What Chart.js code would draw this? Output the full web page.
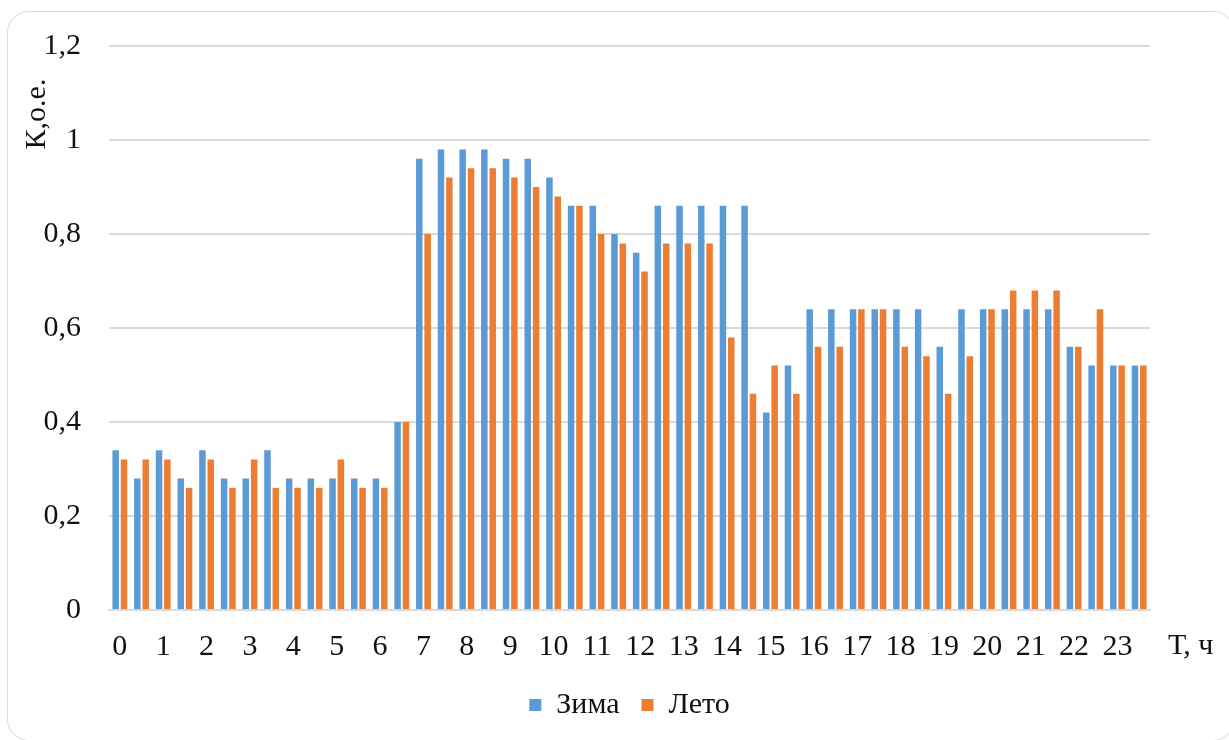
<!DOCTYPE html>
<html lang="ru">
<head>
<meta charset="utf-8">
<title>Коэффициент нагрузки по времени суток</title>
<script src="https://cdn.jsdelivr.net/npm/chart.js@4.4.1/dist/chart.umd.min.js"></script>
<style>
  html, body { margin: 0; padding: 0; background: #ffffff; overflow: hidden; }
  #frame {
    position: absolute; left: 7px; top: 11px; width: 1228px; height: 730px;
    border: 1.5px solid #d9d9d9; border-radius: 22px; box-sizing: border-box;
  }
  #wrap { position: absolute; left: 0; top: 0; width: 1229px; height: 740px; }
</style>
</head>
<body>
<div id="frame"></div>
<div id="wrap"><canvas id="chart" width="1229" height="740"></canvas></div>
<script>
// Half-hour slots over the day; only full hours are labelled on the axis
const hourLabels = [
  '0','', '1','', '2','', '3','', '4','', '5','', '6','', '7','', '8','', '9','', '10','', '11','',
  '12','', '13','', '14','', '15','', '16','', '17','', '18','', '19','', '20','', '21','', '22','', '23',''
];

// Load coefficient, winter day
const winter = [
  0.34, 0.28, 0.34, 0.28, 0.34, 0.28, 0.28, 0.34, 0.28, 0.28, 0.28, 0.28, 0.28, 0.40,
  0.96, 0.98, 0.98, 0.98, 0.96, 0.96, 0.92, 0.86, 0.86, 0.80, 0.76, 0.86, 0.86, 0.86,
  0.86, 0.86, 0.42, 0.52, 0.64, 0.64, 0.64, 0.64, 0.64, 0.64, 0.56, 0.64, 0.64, 0.64,
  0.64, 0.64, 0.56, 0.52, 0.52, 0.52
];

// Load coefficient, summer day
const summer = [
  0.32, 0.32, 0.32, 0.26, 0.32, 0.26, 0.32, 0.26, 0.26, 0.26, 0.32, 0.26, 0.26, 0.40,
  0.80, 0.92, 0.94, 0.94, 0.92, 0.90, 0.88, 0.86, 0.80, 0.78, 0.72, 0.78, 0.78, 0.78,
  0.58, 0.46, 0.52, 0.46, 0.56, 0.56, 0.64, 0.64, 0.56, 0.54, 0.46, 0.54, 0.64, 0.68,
  0.68, 0.68, 0.56, 0.64, 0.52, 0.52
];

const yTickLabels = ['0', '0,2', '0,4', '0,6', '0,8', '1', '1,2'];
const seriesNames = ['Зима', 'Лето'];
const yTitle = 'К,о.е.';
const xTitle = 'Т, ч';

const FONT = '"Liberation Serif", "Times New Roman", serif';
const TEXT = '#111111';
const GRID = '#d9d9d9';

// Axis titles sit at the top of the value axis and to the right of the hour axis
const axisTitles = {
  id: 'axisTitles',
  afterDraw(chart) {
    const { ctx, chartArea } = chart;
    ctx.save();
    ctx.fillStyle = TEXT;
    ctx.font = '30px ' + FONT;
    ctx.textBaseline = 'middle';

    ctx.save();
    ctx.translate(chartArea.left - 72, chartArea.top + 68);
    ctx.rotate(-Math.PI / 2);
    ctx.textAlign = 'center';
    ctx.fillText(yTitle, 0, 0);
    ctx.restore();

    ctx.textAlign = 'left';
    ctx.fillText(xTitle, chartArea.right + 18, chartArea.bottom + 36);
    ctx.restore();
  }
};

new Chart(document.getElementById('chart'), {
  type: 'bar',
  data: {
    labels: hourLabels,
    datasets: [
      { label: seriesNames[0], data: winter, backgroundColor: '#5b9bd5' },
      { label: seriesNames[1], data: summer, backgroundColor: '#ed7d31' }
    ]
  },
  options: {
    responsive: false,
    animation: false,
    devicePixelRatio: 1,
    categoryPercentage: 0.77,
    barPercentage: 0.78,
    layout: { padding: { left: 0, right: 79, top: 44, bottom: 10 } },
    plugins: {
      legend: {
        position: 'bottom',
        fullSize: false,
        labels: {
          font: { family: FONT, size: 30 },
          color: TEXT,
          boxWidth: 12,
          boxHeight: 12,
          padding: 22
        }
      },
      tooltip: { enabled: false }
    },
    scales: {
      x: {
        grid: { display: false, drawTicks: false },
        border: { display: true, color: GRID, width: 2 },
        ticks: {
          autoSkip: false,
          maxRotation: 0,
          minRotation: 0,
          padding: 19,
          color: TEXT,
          font: { family: FONT, size: 30 }
        },
        afterFit(scale) { scale.height = 58; }
      },
      y: {
        min: 0,
        max: 1.2,
        grid: { color: GRID, lineWidth: 2, drawTicks: false },
        border: { display: false },
        ticks: {
          stepSize: 0.2,
          padding: 28,
          color: TEXT,
          font: { family: FONT, size: 30 },
          callback: (value, index) => yTickLabels[index]
        },
        afterFit(scale) { scale.width = 109; }
      }
    }
  },
  plugins: [axisTitles]
});
</script>
</body>
</html>
